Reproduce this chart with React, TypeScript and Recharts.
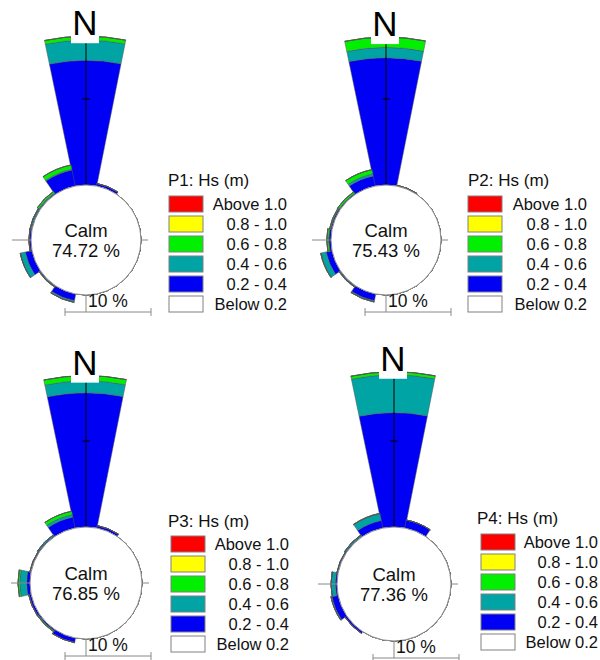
import { RadialBarChart, RadialBar, PolarAngleAxis, PolarRadiusAxis } from 'recharts';

const DIRS = ['N', 'NNE', 'NE', 'ENE', 'E', 'ESE', 'SE', 'SSE', 'S', 'SSW', 'SW', 'WSW', 'W', 'WNW', 'NW', 'NNW'];
const BIN_LABELS = ['Above 1.0', '0.8 - 1.0', '0.6 - 0.8', '0.4 - 0.6', '0.2 - 0.4', 'Below 0.2'];
const BIN_COLORS = ['#ff0000', '#ffff00', '#00f000', '#00a4a4', '#0000f4', '#ffffff'];

// % of time per direction, by Hs class
//               N     NNE   NE ENE E ESE SE SSE S  SSW   SW    WSW   W     WNW   NW    NNW
const P1_02_04 = [14.5, 0.3, 0, 0, 0, 0, 0, 0, 0, 0.8, 0.1, 0.8, 0.2, 0.1, 0.1, 1.9];
const P1_04_06 = [2.35, 0, 0, 0, 0, 0, 0, 0, 0, 0.15, 0.05, 0.6, 0.05, 0.15, 0.1, 0.1];
const P1_06_08 = [0.45, 0, 0, 0, 0, 0, 0, 0, 0, 0.05, 0.05, 0, 0, 0, 0.2, 0.5];
const P1_08_10 = [0, 0, 0, 0, 0, 0, 0, 0, 0, 0, 0, 0, 0, 0, 0, 0];
const P1_ABOVE = [0, 0, 0, 0, 0, 0, 0, 0, 0, 0, 0, 0, 0, 0, 0, 0];

const P2_02_04 = [14.8, 0.1, 0, 0, 0, 0, 0, 0, 0, 0.8, 0.1, 0.7, 0.25, 0.15, 0.1, 1.2];
const P2_04_06 = [1.2, 0, 0, 0, 0, 0, 0, 0, 0, 0.1, 0.05, 0.6, 0.05, 0.05, 0.05, 0.25];
const P2_06_08 = [1.2, 0, 0, 0, 0, 0, 0, 0, 0, 0.05, 0.05, 0.05, 0.2, 0.1, 0.2, 0.5];
const P2_08_10 = [0, 0, 0, 0, 0, 0, 0, 0, 0, 0, 0, 0, 0, 0, 0, 0];
const P2_ABOVE = [0, 0, 0, 0, 0, 0, 0, 0, 0, 0, 0, 0, 0, 0, 0, 0];

const P3_02_04 = [15.6, 0.3, 0, 0, 0, 0, 0, 0, 0, 0.55, 0.15, 0.25, 0.4, 0.1, 0.1, 1.3];
const P3_04_06 = [1.4, 0, 0, 0, 0, 0, 0, 0, 0, 0, 0.05, 0.05, 0.8, 0.05, 0.15, 0.3];
const P3_06_08 = [0.6, 0, 0, 0, 0, 0, 0, 0, 0, 0, 0.1, 0, 0.2, 0, 0, 0.4];
const P3_08_10 = [0, 0, 0, 0, 0, 0, 0, 0, 0, 0, 0, 0, 0, 0, 0, 0];
const P3_ABOVE = [0, 0, 0, 0, 0, 0, 0, 0, 0, 0, 0, 0, 0, 0, 0, 0];

const P4_02_04 = [13.3, 0.95, 0, 0, 0, 0, 0, 0, 0, 0, 0.25, 0.75, 0.2, 0.1, 0.1, 0.9];
const P4_04_06 = [4.4, 0, 0, 0, 0, 0, 0, 0, 0, 0, 0, 0.1, 0.5, 0.05, 0.15, 0.8];
const P4_06_08 = [0.35, 0, 0, 0, 0, 0, 0, 0, 0, 0, 0, 0, 0, 0, 0, 0.05];
const P4_08_10 = [0, 0, 0, 0, 0, 0, 0, 0, 0, 0, 0, 0, 0, 0, 0, 0];
const P4_ABOVE = [0, 0, 0, 0, 0, 0, 0, 0, 0, 0, 0, 0, 0, 0, 0, 0];

const CALM = [74.72, 75.43, 76.85, 77.36];
const NAMES = ['P1', 'P2', 'P3', 'P4'];

const PX_PER_PCT = 8.6;
const R_MAX = 20;
const FONT = '"Liberation Sans", Arial, sans-serif';

function rows(a: number[], b: number[], c: number[], d: number[], e: number[]) {
  return DIRS.map((dir, i) => ({ dir, h02: a[i], h04: b[i], h06: c[i], h08: d[i], h10: e[i] }));
}

const PANELS = [
  { data: rows(P1_02_04, P1_04_06, P1_06_08, P1_08_10, P1_ABOVE), left: 0, top: 0, cx: 86, cy: 240, r0: 55,
    lg: { tx: 168, ty: 186, bx: 169, by: 196, lr: 287 } },
  { data: rows(P2_02_04, P2_04_06, P2_06_08, P2_08_10, P2_ABOVE), left: 300, top: 0, cx: 86, cy: 240, r0: 55,
    lg: { tx: 168, ty: 186, bx: 168, by: 196, lr: 287 } },
  { data: rows(P3_02_04, P3_04_06, P3_06_08, P3_08_10, P3_ABOVE), left: 0, top: 330, cx: 86, cy: 253, r0: 56,
    lg: { tx: 168, ty: 197, bx: 171, by: 206, lr: 289 } },
  { data: rows(P4_02_04, P4_04_06, P4_06_08, P4_08_10, P4_ABOVE), left: 300, top: 330, cx: 94, cy: 254, r0: 57,
    lg: { tx: 177, ty: 194, bx: 181, by: 204, lr: 298 } },
];

const radiusTick = (props: any) => {
  if (props.payload?.value !== 10) return <g />;
  return <line x1={props.x - 4} x2={props.x + 4} y1={props.y} y2={props.y} stroke="#000" strokeWidth={1} />;
};

function WaveRose({ idx }: { idx: number }) {
  const p = PANELS[idx];
  const { cx, cy, r0, lg } = p;
  const n = p.data[0];
  const nTotal = n.h02 + n.h04 + n.h06 + n.h08 + n.h10;
  const nTipY = cy - (r0 + nTotal * PX_PER_PCT);
  const barY = cy + r0 + 17;
  const barLeft = cx - 21;
  const barRight = barLeft + 10 * PX_PER_PCT;

  return (
    <div style={{ position: 'absolute', left: p.left, top: p.top, width: 300, height: 330 }}>
      <RadialBarChart
        width={300}
        height={330}
        data={p.data}
        layout="centric"
        cx={cx}
        cy={cy}
        innerRadius={r0}
        outerRadius={r0 + R_MAX * PX_PER_PCT}
        startAngle={78.75}
        endAngle={-281.25}
        barCategoryGap={0}
        barGap={0}
        margin={{ top: 0, right: 0, bottom: 0, left: 0 }}
      >
        <PolarAngleAxis type="category" dataKey="dir" tick={false} axisLine={false} tickLine={false} />
        <PolarRadiusAxis type="number" domain={[0, R_MAX]} angle={90} ticks={[0, 10, 20]}
          axisLine={{ stroke: '#000', strokeWidth: 1 }} tick={radiusTick} tickLine={false} />
        <RadialBar dataKey="h02" stackId="hs" fill={BIN_COLORS[4]} stroke="#555" strokeWidth={0.5} isAnimationActive={false} />
        <RadialBar dataKey="h04" stackId="hs" fill={BIN_COLORS[3]} stroke="#555" strokeWidth={0.5} isAnimationActive={false} />
        <RadialBar dataKey="h06" stackId="hs" fill={BIN_COLORS[2]} stroke="#555" strokeWidth={0.5} isAnimationActive={false} />
        <RadialBar dataKey="h08" stackId="hs" fill={BIN_COLORS[1]} stroke="#555" strokeWidth={0.5} isAnimationActive={false} />
        <RadialBar dataKey="h10" stackId="hs" fill={BIN_COLORS[0]} stroke="#555" strokeWidth={0.5} isAnimationActive={false} />
      </RadialBarChart>

      <svg width={300} height={330} style={{ position: 'absolute', left: 0, top: 0 }} fontFamily={FONT}>
        {/* calm circle and E-W stubs */}
        <circle cx={cx} cy={cy} r={r0} fill="#fff" stroke="#8a8a8a" strokeWidth={1} />
        <line x1={cx - r0 - 19} x2={cx - r0} y1={cy} y2={cy} stroke="#888" />
        <line x1={cx + r0} x2={cx + r0 + 7} y1={cy} y2={cy} stroke="#888" />
        <text x={cx} y={cy - 3} textAnchor="middle" fontSize={18.5} fill="#111">Calm</text>
        <text x={cx} y={cy + 17} textAnchor="middle" fontSize={18.5} fill="#111">{CALM[idx].toFixed(2)} %</text>

        {/* scale bar */}
        <line x1={barLeft} x2={barRight} y1={barY} y2={barY} stroke="#888" />
        <line x1={barLeft} x2={barLeft} y1={barY - 4} y2={barY + 4} stroke="#888" />
        <line x1={barRight} x2={barRight} y1={barY - 4} y2={barY + 4} stroke="#888" />
        <line x1={cx} x2={cx} y1={cy + r0} y2={barY} stroke="#888" />
        <text x={cx + 2} y={barY - 5} fontSize={17.5} fill="#111">10 %</text>

        {/* north label */}
        <rect x={cx - 15} y={0} width={28} height={nTipY + 7} fill="#fff" />
        <text x={cx - 1} y={nTipY - 1} textAnchor="middle" fontSize={35} fill="#000">N</text>

        {/* legend */}
        <text x={lg.tx} y={lg.ty} fontSize={17} fill="#111">{NAMES[idx]}: Hs (m)</text>
        {BIN_LABELS.map((label, i) => (
          <g key={label}>
            <rect x={lg.bx} y={lg.by + i * 20} width={34} height={16} fill={BIN_COLORS[i]} stroke="#808080" strokeWidth={1} />
            <text x={lg.lr} y={lg.by + i * 20 + 14} textAnchor="end" fontSize={16.5} fill="#111">{label}</text>
          </g>
        ))}
      </svg>
    </div>
  );
}

export default function App() {
  return (
    <div style={{ position: 'absolute', left: 0, top: 0, width: 600, height: 660, background: '#fff' }}>
      {PANELS.map((_, i) => (
        <WaveRose key={i} idx={i} />
      ))}
    </div>
  );
}
